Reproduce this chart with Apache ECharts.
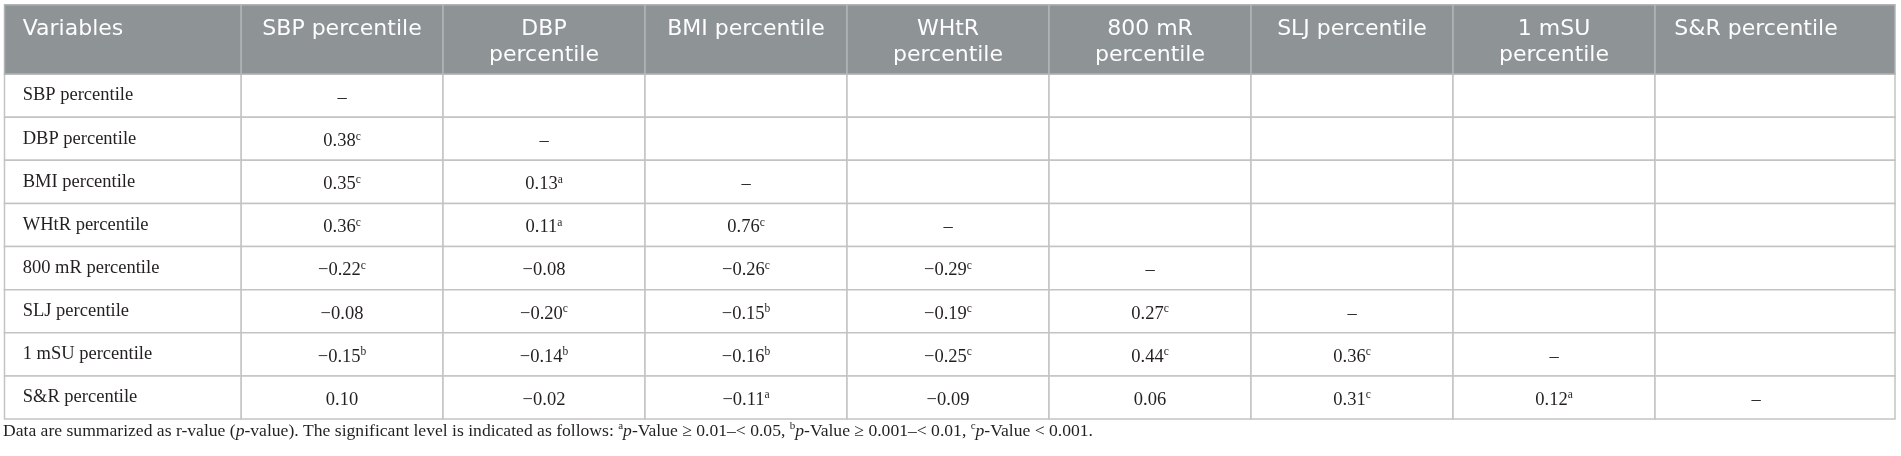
<!DOCTYPE html>
<html>
<head>
<meta charset="utf-8">
<script src="https://cdn.jsdelivr.net/npm/echarts@6/dist/echarts.min.js"></script>
<style>
	html, body { margin: 0; padding: 0; background: #fff; }
	#container { width: 1901px; height: 456px; }
</style>
</head>
<body>
<div id="container"></div>
<script>
// column headers (tick labels of the top axis)
var headerLabels = ['SBP percentile', 'DBP\npercentile', 'BMI percentile', 'WHtR\npercentile',
	'800 mR\npercentile', 'SLJ percentile', '1 mSU\npercentile', 'S&R percentile'];
// row names (tick labels of the left axis)
var rowNames = ['SBP percentile', 'DBP percentile', 'BMI percentile', 'WHtR percentile',
	'800 mR percentile', 'SLJ percentile', '1 mSU percentile', 'S&R percentile'];
// r values, lower triangle, one array per row
var rowCorr = [
	[],
	[0.38],
	[0.35, 0.13],
	[0.36, 0.11, 0.76],
	[-0.22, -0.08, -0.26, -0.29],
	[-0.08, -0.20, -0.15, -0.19, 0.27],
	[-0.15, -0.14, -0.16, -0.25, 0.44, 0.36],
	[0.10, -0.02, -0.11, -0.09, 0.06, 0.31, 0.12]
];
// significance letters, same layout
var rowSig = [
	[],
	['c'],
	['c', 'a'],
	['c', 'a', 'c'],
	['c', '', 'c', 'c'],
	['', 'c', 'b', 'c', 'c'],
	['b', 'b', 'b', 'c', 'c', 'c'],
	['', '', 'a', '', '', 'c', 'a']
];
var cornerLabel = 'Variables';
var footnote = 'Data are summarized as r-value ({i|p}-value). The significant level is indicated as follows: ' +
	'{s|a}{i|p}-Value ≥ 0.01–< 0.05, {s|b}{i|p}-Value ≥ 0.001–< 0.01, {s|c}{i|p}-Value < 0.001.';

// layout
var TABLE_LEFT = 4.5;
var HEADER_TOP = 4.7;
var LAST_EXTRA = 38;
var LINE = '#c3c3c3';
var HEAD_BG = '#8e9396';
var HEAD_LINE = '#b1b5b7';
var SERIF = '"Liberation Serif", "Times New Roman", serif';
var SANS = '"DejaVu Sans", "Noto Sans", sans-serif';

function fmt(v) {
	var s = Math.abs(v).toFixed(2);
	return v < 0 ? '\u2212' + s : s;
}

// one item per cell
var cells = [];
for (var i = 0; i < rowNames.length; i++) {
	for (var j = 0; j < headerLabels.length; j++) {
		var txt = '';
		if (j < i) {
			txt = fmt(rowCorr[i][j]);
			if (rowSig[i][j]) txt += '{s|' + rowSig[i][j] + '}';
		} else if (j === i) {
			txt = '\u2013';
		}
		cells.push([j, i, txt]);
	}
}

function renderCell(params, api) {
	var j = api.value(0), i = api.value(1);
	var c = api.coord([j, i]);
	var s = api.size([1, 1]);
	var x0 = c[0] - s[0] / 2, y0 = c[1] - s[1] / 2;
	var w = j === headerLabels.length - 1 ? s[0] + LAST_EXTRA : s[0];
	var kids = [];
	kids.push({
		type : 'rect',
		shape : { x : x0, y : y0, width : w, height : s[1] },
		style : { fill : '#fff', stroke : LINE, lineWidth : 1.5 }
	});
	if (j === 0) {
		kids.push({
			type : 'rect',
			shape : { x : TABLE_LEFT, y : y0, width : x0 - TABLE_LEFT, height : s[1] },
			style : { fill : '#fff', stroke : LINE, lineWidth : 1.5 }
		});
	}
	if (i === 0) {
		kids.push({
			type : 'rect',
			shape : { x : x0, y : HEADER_TOP, width : w, height : y0 - HEADER_TOP },
			style : { fill : HEAD_BG, stroke : HEAD_LINE, lineWidth : 1.5 }
		});
		if (j === 0) {
			kids.push({
				type : 'rect',
				shape : { x : TABLE_LEFT, y : HEADER_TOP, width : x0 - TABLE_LEFT, height : y0 - HEADER_TOP },
				style : { fill : HEAD_BG, stroke : HEAD_LINE, lineWidth : 1.5 }
			});
			kids.push({
				type : 'text',
				style : {
					text : cornerLabel, x : 22.7, y : 16.5,
					align : 'left', verticalAlign : 'top',
					font : '22px ' + SANS, lineHeight : 26, fill : '#fdfdfd'
				}
			});
		}
	}
	var txt = api.value(2);
	if (txt) {
		kids.push({
			type : 'text',
			style : {
				text : txt, x : c[0], y : c[1] + 2.5,
				align : 'center', verticalAlign : 'middle',
				font : '18.5px ' + SERIF, fill : '#231f20', lineHeight : 21,
				rich : {
					s : { fontSize : 11.5, fontFamily : SERIF, fill : '#231f20', verticalAlign : 'top', lineHeight : 13 }
				}
			}
		});
	}
	return { type : 'group', children : kids };
}

var myChart = echarts.init(document.getElementById('container'));
var option = {
	animation : false,
	title : {
		text : footnote,
		left : 3,
		top : 421,
		padding : 0,
		textStyle : {
			fontFamily : SERIF, fontSize : 17.6, fontWeight : 'normal', color : '#231f20', lineHeight : 21,
			rich : {
				i : { fontFamily : SERIF, fontSize : 17.6, fontStyle : 'italic', color : '#231f20', lineHeight : 21 },
				s : { fontFamily : SERIF, fontSize : 11, color : '#231f20', verticalAlign : 'top', lineHeight : 14 }
			}
		}
	},
	grid : { left : 241, right : 44, top : 74, bottom : 37 },
	xAxis : {
		type : 'category',
		position : 'top',
		data : headerLabels,
		z : 10,
		axisLine : { show : false },
		axisTick : { show : false },
		splitLine : { show : false },
		axisLabel : {
			interval : 0,
			margin : 57.5,
			verticalAlign : 'top',
			fontFamily : SANS,
			fontSize : 22,
			lineHeight : 26,
			color : '#fdfdfd'
		}
	},
	yAxis : {
		type : 'category',
		inverse : true,
		data : rowNames,
		z : 10,
		axisLine : { show : false },
		axisTick : { show : false },
		splitLine : { show : false },
		axisLabel : {
			interval : 0,
			align : 'left',
			margin : 218.3,
			padding : [5, 0, 0, 0],
			fontFamily : SERIF,
			fontSize : 18.5,
			color : '#231f20'
		}
	},
	series : [{
		type : 'custom',
		clip : false,
		renderItem : renderCell,
		data : cells
	}]
};
myChart.setOption(option);
</script>
</body>
</html>
